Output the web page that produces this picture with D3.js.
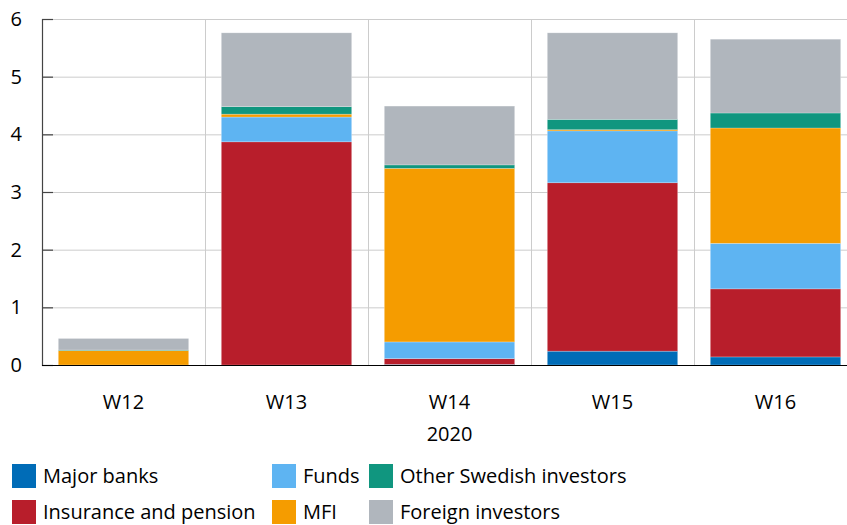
<!DOCTYPE html>
<html>
<head>
<meta charset="utf-8">
<script src="https://cdn.jsdelivr.net/npm/d3@7"></script>
<style>
  body { margin: 0; background: #fff; }
  svg text { font-family: "Open Sans", "Liberation Sans", sans-serif; fill: #000; }
</style>
</head>
<body>
<div id="chart"></div>
<script>
// weeks on the x axis
var weeks = ['W12', 'W13', 'W14', 'W15', 'W16'];
var series = ['Major banks', 'Insurance and pension', 'Funds', 'MFI', 'Other Swedish investors', 'Foreign investors'];
var colors = ['#006cb7', '#b81e2b', '#5eb4f2', '#f59c00', '#10967f', '#b0b6bd'];

// values per series, one per week
var majorBanks = [0, 0, 0.01, 0.24, 0.14];
var insurance = [0, 3.87, 0.10, 2.92, 1.18];
var funds = [0, 0.43, 0.29, 0.90, 0.79];
var mfi = [0.25, 0.05, 3.01, 0.02, 2.00];
var otherSwedish = [0.01, 0.13, 0.06, 0.18, 0.26];
var foreign = [0.20, 1.28, 1.02, 1.50, 1.28];

var yTicks = [0, 1, 2, 3, 4, 5, 6];
var xTitle = '2020';

var values = [majorBanks, insurance, funds, mfi, otherSwedish, foreign];
var table = weeks.map(function (w, i) {
    var row = { week: w };
    series.forEach(function (s, j) { row[s] = values[j][i]; });
    return row;
});

var W = 847, H = 525;
var margin = { top: 19, left: 42, bottom: 160, right: -10 };

var svg = d3.select('#chart').append('svg')
    .attr('width', W)
    .attr('height', H);

var x = d3.scaleBand()
    .domain(weeks)
    .range([margin.left, W - margin.right])
    .paddingInner(0.2)
    .paddingOuter(0.1);

var y = d3.scaleLinear()
    .domain([0, 6])
    .range([H - margin.bottom, margin.top]);

var step = x.step();

// horizontal grid
svg.append('g')
    .selectAll('line')
    .data(yTicks.slice(1))
    .enter()
    .append('line')
    .attr('x1', margin.left)
    .attr('x2', W)
    .attr('y1', d => y(d) + 0.5)
    .attr('y2', d => y(d) + 0.5)
    .attr('stroke', '#cccccc')
    .attr('stroke-width', 1);

// vertical grid between weeks
svg.append('g')
    .selectAll('line')
    .data(weeks.slice(1))
    .enter()
    .append('line')
    .attr('x1', d => Math.round(x(d) - step * 0.1) + 0.5)
    .attr('x2', d => Math.round(x(d) - step * 0.1) + 0.5)
    .attr('y1', y(6))
    .attr('y2', y(0))
    .attr('stroke', '#cccccc')
    .attr('stroke-width', 1);

var stack = d3.stack().keys(series);
var layers = stack(table);

svg.append('g')
    .selectAll('g')
    .data(layers)
    .enter()
    .append('g')
    .attr('fill', (d, i) => colors[i])
    .selectAll('rect')
    .data(d => d)
    .enter()
    .append('rect')
    .attr('x', d => x(d.data.week))
    .attr('width', x.bandwidth())
    .attr('y', d => y(d[1]))
    .attr('height', d => y(d[0]) - y(d[1]))
    .attr('stroke', 'rgba(255,255,255,0.4)')
    .attr('stroke-width', 0.6);

// y axis
var yAxis = d3.axisRight(y)
    .tickValues(yTicks)
    .tickSize(11)
    .tickFormat('');

var yg = svg.append('g')
    .attr('transform', 'translate(' + margin.left + ',0)')
    .call(yAxis);
yg.select('.domain').attr('stroke', '#444').attr('stroke-width', 1.2);
yg.selectAll('.tick line').attr('stroke', '#444').attr('stroke-width', 1.2);

svg.append('g')
    .selectAll('text')
    .data(yTicks)
    .enter()
    .append('text')
    .attr('x', 22)
    .attr('y', d => y(d))
    .attr('dy', '0.35em')
    .attr('text-anchor', 'end')
    .style('font-size', '20px')
    .text(d => d);

// x axis baseline
svg.append('line')
    .attr('x1', margin.left)
    .attr('x2', W)
    .attr('y1', y(0) + 0.5)
    .attr('y2', y(0) + 0.5)
    .attr('stroke', '#000')
    .attr('stroke-width', 1.2);

svg.append('g')
    .selectAll('text')
    .data(weeks)
    .enter()
    .append('text')
    .attr('x', d => x(d) + x.bandwidth() / 2)
    .attr('y', 402)
    .attr('dy', '0.35em')
    .attr('text-anchor', 'middle')
    .style('font-size', '20px')
    .text(d => d);

svg.append('text')
    .attr('x', x('W14') + x.bandwidth() / 2)
    .attr('y', 434)
    .attr('dy', '0.35em')
    .attr('text-anchor', 'middle')
    .style('font-size', '20px')
    .text(xTitle);

// legend, two rows
var legendPos = [
    { x: 12, y: 464 }, { x: 12, y: 500 },
    { x: 272, y: 464 }, { x: 272, y: 500 },
    { x: 369, y: 464 }, { x: 369, y: 500 }
];
var legendOrder = [0, 1, 2, 3, 4, 5];

var lg = svg.append('g')
    .selectAll('g')
    .data(legendOrder)
    .enter()
    .append('g')
    .attr('transform', (d, i) => 'translate(' + legendPos[i].x + ',' + legendPos[i].y + ')');

lg.append('rect')
    .attr('width', 24)
    .attr('height', 24)
    .attr('fill', d => colors[d]);

lg.append('text')
    .attr('x', 31)
    .attr('y', 12)
    .attr('dy', '0.35em')
    .style('font-size', '20px')
    .text(d => series[d]);
</script>
</body>
</html>
